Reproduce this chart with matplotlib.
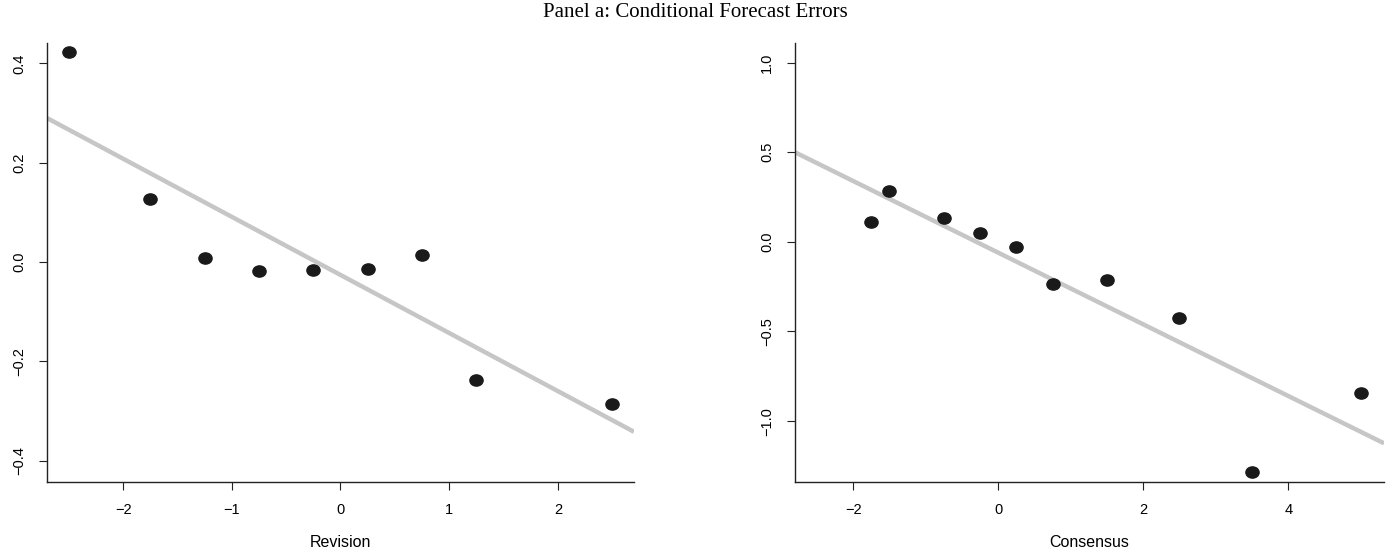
import matplotlib.pyplot as plt
import numpy as np
from matplotlib.path import Path
from matplotlib.transforms import Affine2D

# Left panel: forecast error by revision bin
revision_x = [-2.5, -1.75, -1.25, -0.75, -0.25, 0.25, 0.75, 1.25, 2.5]
revision_err = [0.422, 0.127, 0.008, -0.018, -0.016, -0.014, 0.014, -0.237, -0.285]
revision_fit = (-0.026, -0.117)  # intercept, slope

# Right panel: forecast error by consensus bin
consensus_x = [-1.75, -1.5, -0.75, -0.25, 0.25, 0.75, 1.5, 2.5, 3.5, 5.0]
consensus_err = [0.112, 0.285, 0.134, 0.05, -0.028, -0.235, -0.212, -0.425, -1.285, -0.844]
consensus_fit = (-0.06, -0.2)

plt.rcParams['font.family'] = ['Liberation Sans', 'DejaVu Sans']

# slightly flattened dot, like the original
dot = Path.unit_circle().transformed(Affine2D().scale(1.0, 0.85))

fig = plt.figure(figsize=(13.9, 5.52), dpi=100)
fig.text(0.5, 0.977, "Panel a: Conditional Forecast Errors", ha="center", va="center",
         family="Liberation Serif", fontsize=15)

ax1 = fig.add_axes([0.0338, 0.1268, 0.4223, 0.7953])
ax2 = fig.add_axes([0.572, 0.1268, 0.4237, 0.7953])


def panel(ax, x, y, fit, xlim, ylim, xticks, yticks, ylabels, xlabel):
    xs = np.array(xlim)
    ax.plot(xs, fit[0] + fit[1] * xs, color="#c6c6c6", lw=3.2, solid_capstyle="butt", zorder=1)
    ax.plot(x, y, linestyle="none", marker=dot, markersize=9.5, color="#1a1a1a", zorder=2)
    ax.set_xlim(xlim)
    ax.set_ylim(ylim)
    ax.set_xticks(xticks)
    ax.set_xticklabels([str(t).replace("-", "\u2212") for t in xticks])
    ax.set_yticks(yticks)
    ax.set_yticklabels(ylabels, rotation=90, va="center")
    for s in ["top", "right"]:
        ax.spines[s].set_visible(False)
    for s in ["left", "bottom"]:
        ax.spines[s].set_linewidth(1.0)
        ax.spines[s].set_color("#222222")
    ax.tick_params(length=5.5, width=0.8, color="#222222", labelsize=10.5, pad=9.5)
    ax.set_xlabel(xlabel, fontsize=11.5, labelpad=13)


panel(ax1, revision_x, revision_err, revision_fit, (-2.7, 2.7), (-0.443, 0.441),
      [-2, -1, 0, 1, 2], [-0.4, -0.2, 0.0, 0.2, 0.4],
      ["\u22120.4", "\u22120.2", "0.0", "0.2", "0.4"], "Revision")
panel(ax2, consensus_x, consensus_err, consensus_fit, (-2.8, 5.32), (-1.34, 1.11),
      [-2, 0, 2, 4], [-1.0, -0.5, 0.0, 0.5, 1.0],
      ["\u22121.0", "\u22120.5", "0.0", "0.5", "1.0"], "Consensus")

fig.savefig("out.png", dpi=100)
